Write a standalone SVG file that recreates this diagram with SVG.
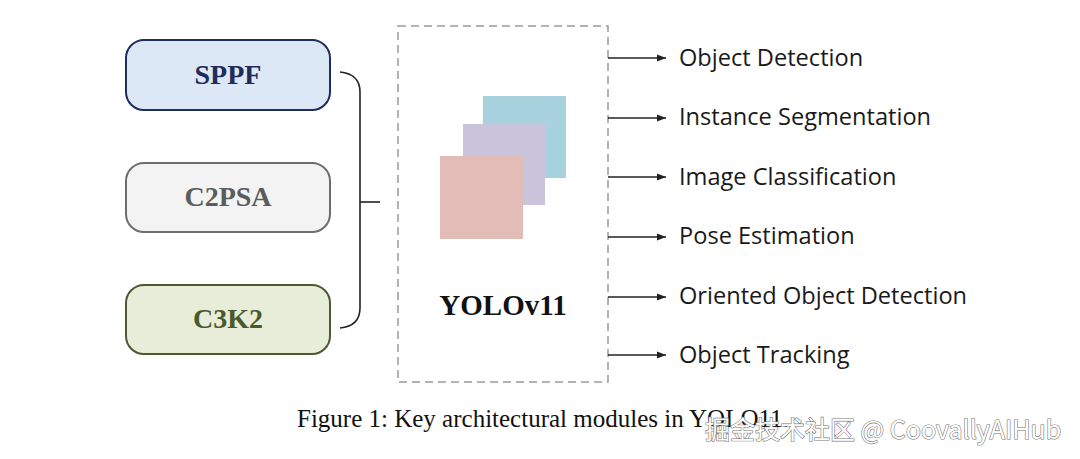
<svg xmlns="http://www.w3.org/2000/svg" width="1080" height="459" viewBox="0 0 1080 459">
<defs>
<marker id="ah" markerWidth="10" markerHeight="8" refX="9" refY="4" orient="auto" markerUnits="userSpaceOnUse">
<path d="M0,0.5 L9,4 L0,7.5 Z" fill="#222"/>
</marker>
<style>
.mod{stroke-width:2}
.modt{font-family:"Liberation Serif",serif;font-weight:bold;font-size:28px;text-anchor:middle}
.task{font-family:"Open Sans","Liberation Sans",sans-serif;font-size:23.6px;fill:#1a1a1a}
.conn{stroke:#222;stroke-width:1.6;fill:none}
</style>
</defs>
<rect width="1080" height="459" fill="#fff"/>

<g id="node-sppf">
<rect class="mod" x="126" y="40" width="204" height="70" rx="18" fill="#dde8f6" stroke="#1f2d5c"/>
<text class="modt" x="228" y="84" fill="#1f2d5c">SPPF</text>
</g>
<g id="node-c2psa">
<rect class="mod" x="126" y="163" width="204" height="69" rx="18" fill="#f3f3f3" stroke="#6e6e6e"/>
<text class="modt" x="228" y="206" fill="#5c5c5c">C2PSA</text>
</g>
<g id="node-c3k2">
<rect class="mod" x="126" y="285" width="204" height="69" rx="18" fill="#e7edd9" stroke="#4a5a30"/>
<text class="modt" x="228" y="328" fill="#4a5a2c">C3K2</text>
</g>

<g id="node-yolo">
<rect x="398" y="26" width="210" height="356" fill="none" stroke="#9a9a9a" stroke-width="1.5" stroke-dasharray="8,5"/>
<rect x="483" y="96" width="83" height="82" fill="#a6d1dd"/>
<rect x="463" y="124" width="82" height="81" fill="#cac3dc"/>
<rect x="440" y="156" width="83" height="83" fill="#e2bdb7"/>
<text x="503" y="315" font-family="Liberation Serif,serif" font-weight="bold" font-size="29" text-anchor="middle" fill="#111">YOLOv11</text>
</g>

<g id="tasks">
<text class="task" x="679" y="66">Object Detection</text>
<text class="task" x="679" y="125">Instance Segmentation</text>
<text class="task" x="679" y="185">Image Classification</text>
<text class="task" x="679" y="244">Pose Estimation</text>
<text class="task" x="679" y="304">Oriented Object Detection</text>
<text class="task" x="679" y="363">Object Tracking</text>
</g>

<g id="connectors">
<path class="conn" stroke-width="2" d="M340,72 Q360,74 360,92 V308 Q360,326 340,328"/>
<path class="conn" stroke-width="2" d="M360,202 H380"/>
<path class="conn" d="M608,58 H666" marker-end="url(#ah)"/>
<path class="conn" d="M608,118 H666" marker-end="url(#ah)"/>
<path class="conn" d="M608,177 H666" marker-end="url(#ah)"/>
<path class="conn" d="M608,237 H666" marker-end="url(#ah)"/>
<path class="conn" d="M608,297 H666" marker-end="url(#ah)"/>
<path class="conn" d="M608,355 H666" marker-end="url(#ah)"/>
</g>

<text id="caption" x="297" y="427" font-family="Liberation Serif,serif" font-size="25" fill="#111">Figure 1: Key architectural modules in YOLO11.</text>
<text id="watermark" x="705" y="439" font-family="Noto Sans CJK SC,Noto Sans,sans-serif" font-size="25" fill="#fff" stroke="#777" stroke-width="1.2" paint-order="stroke">掘金技术社区 @ CoovallyAIHub</text>
</svg>
